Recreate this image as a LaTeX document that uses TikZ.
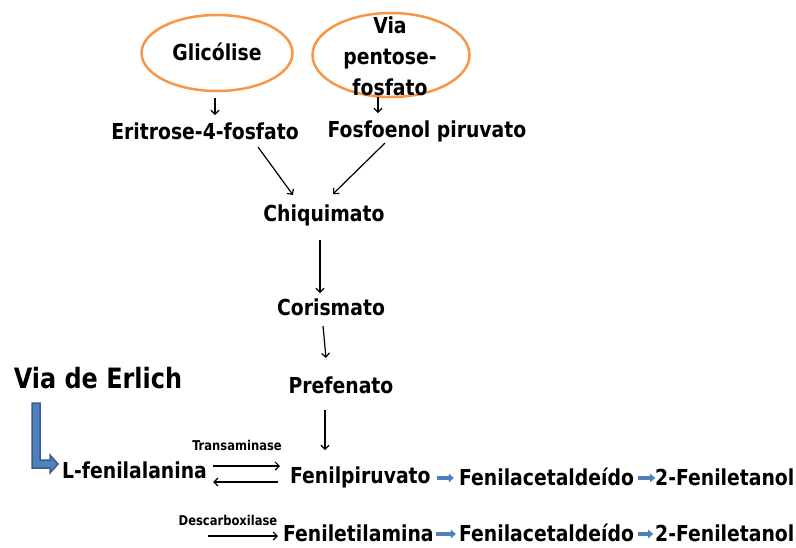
\documentclass[tikz,border=0pt]{standalone}
\usepackage{fontspec}
\setmainfont{DejaVu Sans Condensed}[FakeStretch=0.95]
\usetikzlibrary{arrows.meta,shapes.geometric,calc}
\definecolor{orng}{HTML}{F79646}
\definecolor{bluefill}{HTML}{4F81BD}
\definecolor{blueline}{HTML}{385D8A}
\tikzset{
  txt/.style={font=\fontsize{22}{24}\selectfont\bfseries, inner sep=0pt, anchor=center},
  small/.style={font=\fontsize{13.5}{14}\selectfont\bfseries, inner sep=0pt},
  oval/.style={ellipse, draw=orng, line width=2.5pt},
  arr/.style={-{Straight Barb[length=4pt,width=8pt,line width=1.2pt]}, line width=1.2pt},
  barr/.style={bluefill, line width=3.5pt, -{Triangle[length=5pt,width=8.5pt]}},
}
\begin{document}
\begin{tikzpicture}[x=1pt,y=-1pt]
\useasboundingbox (0,0) rectangle (796,547);
\node[oval, minimum width=151pt, minimum height=76pt] (o1) at (217,53) {};
\node[oval, minimum width=157pt, minimum height=84pt] (o2) at (391,55) {};
\node[txt] (gli) at (217,52) {Glicólise};
\node[txt, align=center, font=\fontsize{22}{31}\selectfont\bfseries] (via) at (390,56) {Via\\pentose-\\fosfato};
\node[txt] (eri) at (205,131) {Eritrose-4-fosfato};
\node[txt] (fos) at (427,131) {Fosfoenol piruvato};
\node[txt] (chi) at (324,215) {Chiquimato};
\node[txt] (cor) at (331,307) {Corismato};
\node[txt] (pre) at (341,385) {Prefenato};
\node[txt, font=\fontsize{28}{30}\selectfont\bfseries] (erl) at (98,378) {Via de Erlich};
\node[txt, anchor=west] (lfe) at (62,470) {L-fenilalanina};
\node[small] (tra) at (237,445) {Transaminase};
\node[txt, anchor=west] (fpi) at (290,477) {Fenilpiruvato};
\node[txt, anchor=west] (fa1) at (459,477) {Fenilacetaldeído};
\node[txt, anchor=west] (fe1) at (655,477) {2-Feniletanol};
\node[small] (des) at (228,520) {Descarboxilase};
\node[txt, anchor=west] (fam) at (283,533) {Feniletilamina};
\node[txt, anchor=west] (fa2) at (459,533) {Fenilacetaldeído};
\node[txt, anchor=west] (fe2) at (655,533) {2-Feniletanol};
\coordinate (d0) at (208,536);
% vertical arrows
\draw[arr] ($(gli)+(-2,46)$) -- ($(eri)+(10,-16)$);
\draw[arr] ($(via)+(-12,41)$) -- ($(fos)+(-49,-18)$);
\draw[arr] ($(eri)+(53,16)$) -- ($(chi)+(-31,-20)$);
\draw[arr] ($(fos)+(-42,12)$) -- ($(chi)+(9,-21)$);
\draw[arr] ($(chi)+(-4,25)$) -- ($(cor)+(-11,-14)$);
\draw[arr] ($(cor)+(-8,19)$) -- ($(pre)+(-15,-27)$);
\draw[arr] ($(pre)+(-16,25)$) -- ($(fpi.west)+(35,-27)$);
% transaminase
\draw[arr] ($(lfe.east)+(6,-4)$) -- ($(fpi.west)+(-10,-11)$);
\draw[arr] ($(fpi.west)+(-12,5)$) -- ($(lfe.east)+(6,12)$);
\draw[arr] (d0) -- ($(fam.west)+(-5,3)$);
% blue small arrows
\draw[barr] (fpi.east) ++(6,1) -- ++(17,0);
\draw[barr] (fa1.east) ++(4,1) -- ++(17,0);
\draw[barr] (fam.east) ++(2,1) -- ++(20,0);
\draw[barr] (fa2.east) ++(4,1) -- ++(15,0);
% L arrow
\draw[fill=bluefill, draw=blueline, line width=1.5pt, line join=miter]
  (32,403) -- (40,403) -- (40,460) -- (50,460) -- (50,455) -- (58,464) -- (50,473) -- (50,468) -- (32,468) -- cycle;
\end{tikzpicture}
\end{document}
